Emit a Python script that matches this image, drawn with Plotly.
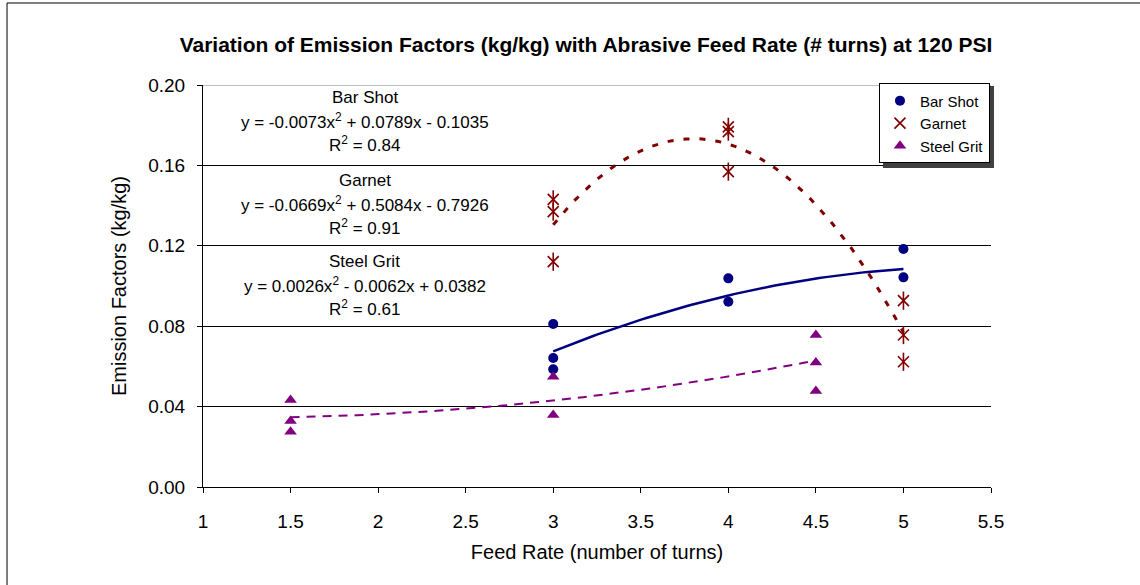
import numpy as np
import plotly.graph_objects as go

# Measured emission factors (kg/kg) by abrasive feed rate (number of turns)
bar_feed = [3, 3, 3, 4, 4, 5, 5]
bar_ef = [0.0811, 0.0642, 0.0586, 0.1038, 0.0922, 0.1184, 0.1043]

garnet_feed = [3, 3, 3, 4, 4, 4, 5, 5, 5]
garnet_ef = [0.1431, 0.1370, 0.1121, 0.1792, 0.1768, 0.1569, 0.0927, 0.0756, 0.0623]

steel_feed = [1.5, 1.5, 1.5, 3, 3, 4.5, 4.5, 4.5]
steel_ef = [0.0433, 0.0328, 0.0275, 0.0549, 0.0358, 0.0756, 0.0619, 0.0478]

# Second-order trendline coefficients (a, b, c) for y = a x^2 + b x + c, and R^2
bar_fit = [-0.0073, 0.0789, -0.1035]
garnet_fit = [-0.0669, 0.5084, -0.7926]
steel_fit = [0.0026, -0.0062, 0.0382]
bar_r2, garnet_r2, steel_r2 = 0.84, 0.91, 0.61

x_ticks = [1, 1.5, 2, 2.5, 3, 3.5, 4, 4.5, 5, 5.5]
y_ticks = [0.00, 0.04, 0.08, 0.12, 0.16, 0.20]

NAVY = "#000080"
DARKRED = "#800000"
PURPLE = "#800080"
FONT = "Arial, Liberation Sans, sans-serif"


def trend(coefs, feed):
    xs = np.linspace(min(feed), max(feed), 80)
    return xs, np.polyval(coefs, xs)


def eq_text(coefs):
    a, b, c = coefs
    sb = "+" if b >= 0 else "-"
    sc = "+" if c >= 0 else "-"
    return f"y = {a:.4f}x<sup>2</sup> {sb} {abs(b):.4f}x {sc} {abs(c):.4f}"


fig = go.Figure()

fig.add_trace(go.Scatter(
    x=bar_feed, y=bar_ef, mode="markers", name="Bar Shot",
    marker=dict(symbol="circle", size=10, color=NAVY),
))
fig.add_trace(go.Scatter(
    x=garnet_feed, y=garnet_ef, mode="markers", name="Garnet", legendgroup="g",
    marker=dict(symbol="x-thin-open", size=11, color=DARKRED,
                line=dict(color=DARKRED, width=1.6)),
))
fig.add_trace(go.Scatter(
    x=garnet_feed, y=garnet_ef, mode="markers", name="Garnet", legendgroup="g",
    showlegend=False, hoverinfo="skip",
    marker=dict(symbol="line-ns-open", size=13, color=DARKRED,
                line=dict(color=DARKRED, width=1.6)),
))
fig.add_trace(go.Scatter(
    x=steel_feed, y=steel_ef, mode="markers", name="Steel Grit",
    marker=dict(symbol="triangle-up", size=11, color=PURPLE),
))

# Polynomial trendlines
tx, ty = trend(bar_fit, bar_feed)
fig.add_trace(go.Scatter(x=tx, y=ty, mode="lines", showlegend=False,
                         hoverinfo="skip", line=dict(color=NAVY, width=2.5)))
tx, ty = trend(garnet_fit, garnet_feed)
fig.add_trace(go.Scatter(x=tx, y=ty, mode="lines", showlegend=False,
                         hoverinfo="skip",
                         line=dict(color=DARKRED, width=3, dash="6px,10px")))
tx, ty = trend(steel_fit, steel_feed)
fig.add_trace(go.Scatter(x=tx, y=ty, mode="lines", showlegend=False,
                         hoverinfo="skip",
                         line=dict(color=PURPLE, width=2, dash="9px,7px")))

# Trendline equation labels
labels = [
    ("Bar Shot", bar_fit, bar_r2, 0.968),
    ("Garnet", garnet_fit, garnet_r2, 0.762),
    ("Steel Grit", steel_fit, steel_r2, 0.560),
]
annotations = []
for name, coefs, r2, ytop in labels:
    lines = [name, eq_text(coefs), f"R<sup>2</sup> = {r2:.2f}"]
    for i, txt in enumerate(lines):
        annotations.append(dict(
            x=0.205, y=ytop - i * 0.0575, xref="paper", yref="paper",
            text=txt, showarrow=False, xanchor="center", yanchor="middle",
            font=dict(family=FONT, size=17, color="black"),
        ))

fig.update_layout(
    width=1140, height=585,
    margin=dict(l=203, r=149, t=85, b=98),
    paper_bgcolor="white", plot_bgcolor="white",
    title=dict(
        text="<b>Variation of Emission Factors (kg/kg) with Abrasive Feed Rate (# turns) at 120 PSI</b>",
        x=0.514, xanchor="center", y=0.923, yanchor="middle",
        font=dict(family=FONT, size=21, color="black"),
    ),
    font=dict(family=FONT, color="black"),
    showlegend=True,
    legend=dict(
        x=0.9987, xanchor="right", y=1.004, yanchor="top",
        bgcolor="white", bordercolor="black", borderwidth=1,
        font=dict(family=FONT, size=15, color="black"),
        itemwidth=30, tracegroupgap=0,
    ),
    annotations=annotations,
    shapes=[
        # outer chart frame
        dict(type="rect", xref="paper", yref="paper",
             x0=-0.2487, x1=1.3, y0=-0.35, y1=1.204,
             line=dict(color="black", width=1), layer="below"),
        # gridline at the top of the value range
        dict(type="line", xref="paper", yref="y",
             x0=0, x1=1, y0=y_ticks[-1], y1=y_ticks[-1],
             line=dict(color="#808080", width=1), layer="below"),
        # legend drop shadow
        dict(type="rect", xref="paper", yref="paper",
             x0=0.8629, x1=1.0038, y0=0.7935, y1=0.9975,
             line=dict(width=0), fillcolor="#404040", layer="above"),
    ],
)

fig.update_xaxes(
    range=[1, 5.5], tickvals=x_ticks, ticktext=[f"{v:g}" for v in x_ticks],
    showgrid=False, zeroline=False,
    showline=True, linecolor="black", linewidth=1,
    ticks="outside", ticklen=5, tickcolor="black",
    ticklabelstandoff=12,
    tickfont=dict(family=FONT, size=19, color="black"),
    title=dict(text="Feed Rate (number of turns)", standoff=14,
               font=dict(family=FONT, size=20, color="black")),
)
fig.update_yaxes(
    range=[0, 0.2], tickvals=y_ticks, ticktext=[f"{v:.2f}" for v in y_ticks],
    showgrid=True, gridcolor="black", gridwidth=1, zeroline=False,
    showline=True, linecolor="black", linewidth=1,
    ticks="outside", ticklen=5, tickcolor="black",
    ticklabelstandoff=8,
    tickfont=dict(family=FONT, size=19, color="black"),
    title=dict(text="Emission Factors (kg/kg)", standoff=16,
               font=dict(family=FONT, size=20, color="black")),
)

fig.write_html("out.html")
